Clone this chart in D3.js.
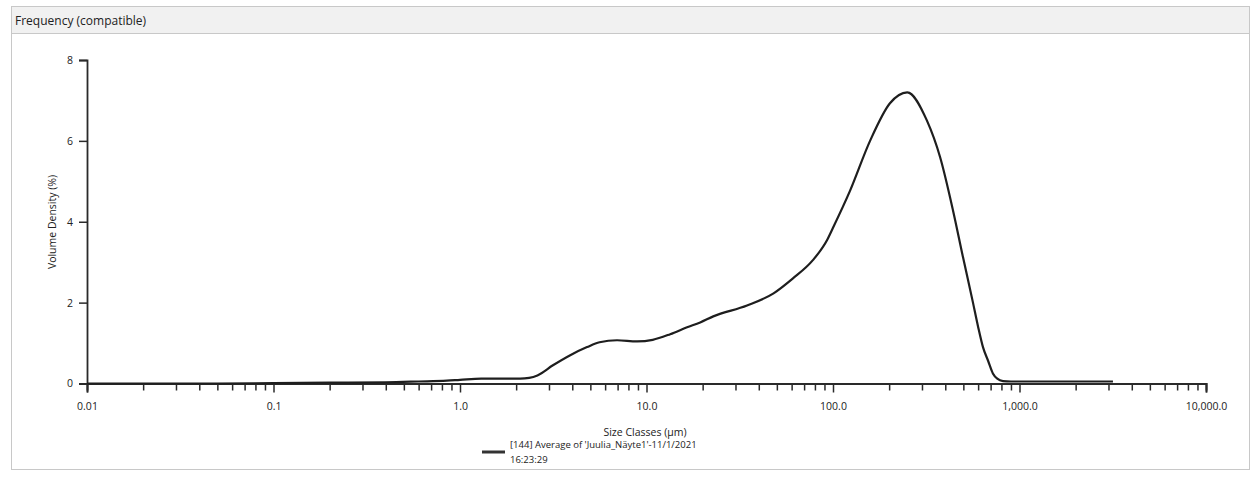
<!DOCTYPE html>
<html>
<head>
<meta charset="utf-8">
<script src="https://cdn.jsdelivr.net/npm/d3@7"></script>
<style>
  html, body { margin: 0; padding: 0; background: #fff; }
  svg { display: block; font-family: "Open Sans", "Noto Sans", sans-serif; }
</style>
</head>
<body>
<svg id="chart" width="1256" height="480"></svg>
<script>
// Particle size distribution (volume density vs. size class)
const sizeClasses = [0.01, 0.05, 0.1, 0.2, 0.4, 0.6, 0.85, 1.0, 1.3, 1.7, 2.1, 2.35, 2.6, 3.15, 3.9, 4.8, 5.6,
  6.95, 8.9, 10.8, 13.4, 16.5, 19.4, 22.8, 34.6, 48, 61, 78, 93, 100, 123, 158, 202, 250, 319,
  375, 440, 498, 563, 600, 637, 680, 720, 760, 816, 900, 1500, 2500, 3170];
const volumeDensity = [0.0, 0.0, 0.01, 0.02, 0.03, 0.05, 0.07, 0.09, 0.12, 0.12, 0.12, 0.14, 0.2, 0.45, 0.7, 0.9, 1.02,
  1.07, 1.04, 1.08, 1.22, 1.39, 1.51, 1.66, 1.93, 2.23, 2.6, 3.05, 3.55, 3.85, 4.75, 6.0, 6.93, 7.2, 6.5,
  5.6, 4.28, 3.12, 2.0, 1.4, 0.9, 0.55, 0.25, 0.12, 0.06, 0.05, 0.05, 0.05, 0.05];

const majorTicks = [0.01, 0.1, 1, 10, 100, 1000, 10000];
const majorTickLabels = ["0.01", "0.1", "1.0", "10.0", "100.0", "1,000.0", "10,000.0"];
const yTicks = [0, 2, 4, 6, 8];

const panelTitle = "Frequency (compatible)";
const xTitle = "Size Classes (\u00b5m)";
const yTitle = "Volume Density (%)";
const legendLines = ["[144] Average of 'Juulia_N\u00e4yte1'-11/1/2021", "16:23:29"];

const svg = d3.select("#chart");

// Panel frame and header strip
svg.append("rect").attr("x", 11.5).attr("y", 6.5).attr("width", 1238).attr("height", 463)
  .attr("fill", "#fff").attr("stroke", "#c8c8c8");
svg.append("rect").attr("x", 11.5).attr("y", 6.5).attr("width", 1238).attr("height", 27)
  .attr("fill", "#f1f1f1").attr("stroke", "#c8c8c8");
svg.append("text").attr("x", 15).attr("y", 25).attr("font-size", 12).attr("fill", "#222")
  .text(panelTitle);

const x = d3.scaleLog().domain([0.01, 10000]).range([87, 1206]);
const y = d3.scaleLinear().domain([0, 8]).range([383.5, 60]);

// Minor ticks: 2..9 within each decade
const minorTicks = [];
for (let d = 0; d < majorTicks.length - 1; d++) {
  for (let k = 2; k <= 9; k++) minorTicks.push(majorTicks[d] * k);
}

const axisColor = "#2a2a2a";
const labelFont = "'Open Sans', 'Noto Sans', sans-serif";

const gMinor = svg.append("g").attr("transform", `translate(0,${y(0)})`)
  .call(d3.axisBottom(x).tickValues(minorTicks).tickSize(7).tickFormat(""));
const gMajor = svg.append("g").attr("transform", `translate(0,${y(0)})`)
  .call(d3.axisBottom(x).tickValues(majorTicks).tickSize(9).tickPadding(10)
    .tickFormat((d, i) => majorTickLabels[i]));
[gMinor, gMajor].forEach(g => {
  g.select(".domain").attr("stroke", axisColor).attr("stroke-width", 1.8);
  g.selectAll(".tick line").attr("stroke", axisColor).attr("stroke-width", 1.5);
  g.selectAll("text").attr("font-size", 10.5).attr("fill", "#222").attr("font-family", labelFont);
});

const gY = svg.append("g").attr("transform", `translate(${x(0.01)},0)`)
  .call(d3.axisLeft(y).tickValues(yTicks).tickSize(8).tickPadding(6).tickFormat(d3.format("d")));
gY.select(".domain").attr("stroke", axisColor).attr("stroke-width", 1.8);
gY.selectAll(".tick line").attr("stroke", axisColor).attr("stroke-width", 1.5);
gY.selectAll("text").attr("font-size", 10.5).attr("fill", "#222").attr("font-family", labelFont);

// Axis titles
svg.append("text").attr("x", 645).attr("y", 436).attr("text-anchor", "middle")
  .attr("font-size", 10.5).attr("fill", "#222").text(xTitle);
svg.append("text").attr("transform", "translate(56,222) rotate(-90)").attr("text-anchor", "middle")
  .attr("font-size", 10.5).attr("fill", "#222").text(yTitle);

// Distribution curve
const pts = sizeClasses.map((s, i) => [s, volumeDensity[i]]);
const line = d3.line().x(d => x(d[0])).y(d => y(d[1])).curve(d3.curveMonotoneX);
svg.append("path").datum(pts).attr("d", line)
  .attr("fill", "none").attr("stroke", "#1e1e1e").attr("stroke-width", 2.2)
  .attr("stroke-linejoin", "round");

// Legend
svg.append("line").attr("x1", 482).attr("x2", 505).attr("y1", 452).attr("y2", 452)
  .attr("stroke", "#333").attr("stroke-width", 3);
svg.selectAll("text.legend").data(legendLines).enter().append("text")
  .attr("class", "legend").attr("x", 510).attr("y", (d, i) => 448 + i * 15)
  .attr("font-size", 9.5).attr("fill", "#222").text(d => d);
</script>
</body>
</html>
